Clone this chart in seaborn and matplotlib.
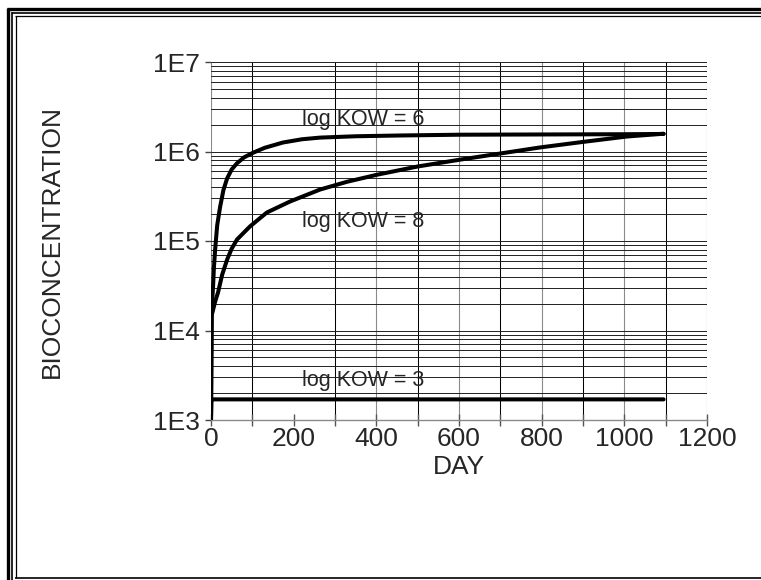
import numpy as np
import pandas as pd
import matplotlib
matplotlib.use("Agg")
import matplotlib.pyplot as plt
from matplotlib.lines import Line2D
from matplotlib.ticker import FixedLocator, FuncFormatter, NullFormatter
import seaborn as sns

# Bioconcentration versus exposure time for three log KOW values
days_kow3 = [0, 1, 2, 50, 200, 400, 600, 800, 1000, 1095]
bcf_kow3 = [1000, 1700, 1700, 1700, 1700, 1700, 1700, 1700, 1700, 1700]

days_kow6 = [0, 1, 2, 3, 5, 7, 10, 15, 22, 30, 39, 50, 63, 80, 102, 130, 174, 220,
             264, 350, 457, 600, 800, 1000, 1095]
bcf_kow6 = [1000, 15000, 17000, 22000, 31000, 50000, 80000, 150000, 240000, 370000,
            500000, 630000, 740000, 860000, 970000, 1100000, 1260000, 1370000,
            1430000, 1480000, 1510000, 1540000, 1550000, 1560000, 1570000]

days_kow8 = [0, 2, 5, 10, 17, 27, 39, 50, 63, 94, 135, 191, 264, 330, 404, 500,
             602, 700, 796, 900, 1006, 1095]
bcf_kow8 = [1000, 15000, 17000, 21000, 26600, 42000, 62000, 82000, 104000, 145000,
            208000, 276000, 376000, 460000, 553000, 680000, 810000, 950000,
            1110000, 1280000, 1470000, 1580000]

series_labels = ["log KOW = 3", "log KOW = 6", "log KOW = 8"]
label_days = [220, 220, 220]
label_values = [2400, 2000000, 145000]

x_ticks = [0, 200, 400, 600, 800, 1000, 1200]
y_ticks = [1e3, 1e4, 1e5, 1e6, 1e7]
y_tick_labels = ["1E3", "1E4", "1E5", "1E6", "1E7"]

frames = []
for name, d, v in zip(series_labels, [days_kow3, days_kow6, days_kow8],
                      [bcf_kow3, bcf_kow6, bcf_kow8]):
    frames.append(pd.DataFrame({"DAY": d, "BCF": v, "series": name}))
data = pd.concat(frames, ignore_index=True)

sns.set_style("white")
plt.rcParams["font.family"] = ["Liberation Sans", "DejaVu Sans"]

fig = plt.figure(figsize=(7.61, 5.80), dpi=100)
ax = fig.add_axes([211 / 761, 1 - 420 / 580, 496 / 761, 358 / 580])

sns.lineplot(data=data, x="DAY", y="BCF", hue="series", units="series",
             estimator=None, sort=True, legend=False,
             palette={s: "black" for s in series_labels},
             linewidth=2.9, ax=ax, zorder=5)

ax.set_yscale("log")
ax.set_xlim(0, 1200)
ax.set_ylim(1e3, 1e7)

ax.xaxis.set_major_locator(FixedLocator(x_ticks))
ax.xaxis.set_minor_locator(FixedLocator(list(range(100, 1200, 200))))
ax.yaxis.set_major_locator(FixedLocator(y_ticks))
minor_y = [m * 10 ** e for e in range(3, 7) for m in range(2, 10)]
ax.yaxis.set_minor_locator(FixedLocator(minor_y))
ax.yaxis.set_major_formatter(FuncFormatter(lambda v, p: y_tick_labels[y_ticks.index(v)] if v in y_ticks else ""))
ax.yaxis.set_minor_formatter(NullFormatter())

ax.grid(True, which="major", axis="x", color="#8a8a8a", linewidth=0.8)
ax.grid(True, which="minor", axis="x", color="black", linewidth=0.75)
ax.grid(True, which="both", axis="y", color="#202020", linewidth=0.7)

for t in ax.xaxis.get_major_ticks():
    if t.get_loc() in (0, 1200):
        t.gridline.set_visible(False)

for side in ("left", "top", "right"):
    ax.spines[side].set_visible(False)
ax.spines["bottom"].set_color("#8a8a8a")
ax.spines["bottom"].set_linewidth(1.0)

ax.tick_params(axis="x", which="both", direction="inout", length=8, width=1.0,
               color="#555555", labelsize=19, pad=1, bottom=True)
ax.tick_params(axis="y", which="major", direction="out", length=4, width=1.0,
               color="#444444", labelsize=19, pad=4, left=True)
ax.tick_params(axis="y", which="minor", length=0)

ax.set_xlabel("DAY", fontsize=19, labelpad=3)
ax.set_ylabel("BIOCONCENTRATION", fontsize=19, labelpad=64)

for txt, dx, vy in zip(series_labels, label_days, label_values):
    ax.text(dx, vy, txt, fontsize=15.5, ha="left", va="baseline", zorder=6)

# Page frame: heavy outer rule plus two thin inner rules
W, H = 761.0, 580.0
def hline(y, lw, x0):
    fig.add_artist(Line2D([x0 / W, 1.02], [1 - y / H, 1 - y / H], color="black",
                          linewidth=lw, transform=fig.transFigure, solid_capstyle="butt"))
def vline(x, lw, y0, y1):
    fig.add_artist(Line2D([x / W, x / W], [1 - y0 / H, 1 - y1 / H], color="black",
                          linewidth=lw, transform=fig.transFigure, solid_capstyle="butt"))

hline(8.8, 2.4, 7.0)
vline(8.0, 2.4, 7.6, 580)
hline(12.8, 1.2, 11.5)
vline(12.0, 1.2, 12.2, 580)
hline(16.2, 0.9, 15.5)
vline(15.8, 0.9, 15.8, 578)
hline(577.5, 1.2, 15.5)

fig.text(530 / W, 1 + 6 / H, "g", fontsize=20, fontweight="bold",
         family=["Liberation Serif", "DejaVu Serif"], ha="center", va="baseline")

fig.savefig("out.png", dpi=100)
